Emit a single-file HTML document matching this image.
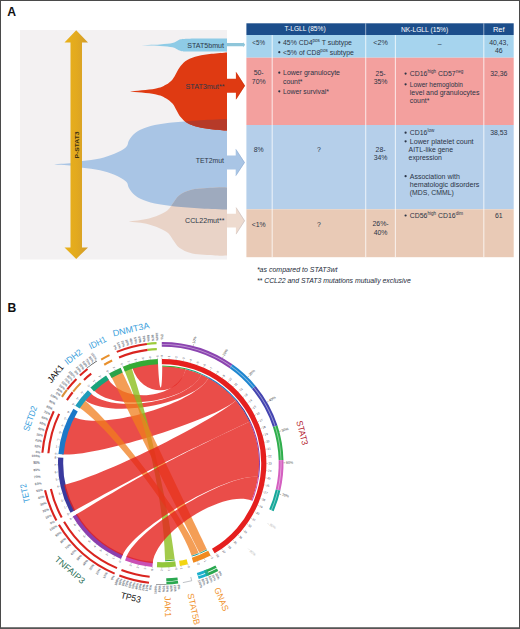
<!DOCTYPE html><html><head><meta charset="utf-8"><style>html,body{margin:0;padding:0;background:#fff}body{width:520px;height:629px;overflow:hidden;font-family:"Liberation Sans",sans-serif}svg{display:block}</style></head><body>
<svg width="520" height="629" viewBox="0 0 520 629">
<rect x="0" y="0" width="520" height="629" fill="#fff"/>
<rect x="20" y="30" width="207" height="229.5" fill="#f3f1f2"/>
<defs><clipPath id="cpTet"><path d="M43.50 164.30 C45.92 164.23 53.58 164.08 58.00 163.90 C62.42 163.72 65.92 163.70 70.00 163.20 C74.08 162.70 77.50 161.70 82.50 160.90 C87.50 160.10 94.68 159.58 100.00 158.40 C105.32 157.22 110.07 155.67 114.40 153.80 C118.73 151.93 123.60 149.37 126.00 147.20 C128.40 145.03 127.60 142.87 128.80 140.80 C130.00 138.73 131.27 136.63 133.20 134.80 C135.13 132.97 136.80 131.43 140.40 129.80 C144.00 128.17 149.03 126.27 154.80 125.00 C160.57 123.73 167.30 123.00 175.00 122.20 C182.70 121.40 192.33 120.73 201.00 120.20 C209.67 119.67 222.67 119.20 227.00 119.00 L227.00 209.60 C222.67 209.40 209.67 208.93 201.00 208.40 C192.33 207.87 182.70 207.20 175.00 206.40 C167.30 205.60 160.57 204.87 154.80 203.60 C149.03 202.33 144.00 200.43 140.40 198.80 C136.80 197.17 135.13 195.63 133.20 193.80 C131.27 191.97 130.00 189.87 128.80 187.80 C127.60 185.73 128.40 183.57 126.00 181.40 C123.60 179.23 118.73 176.67 114.40 174.80 C110.07 172.93 105.32 171.38 100.00 170.20 C94.68 169.02 87.50 168.50 82.50 167.70 C77.50 166.90 74.08 165.90 70.00 165.40 C65.92 164.90 62.42 164.88 58.00 164.70 C53.58 164.52 45.92 164.37 43.50 164.30 Z" fill="#000" /></clipPath><clipPath id="cpCcl"><path d="M128.80 221.50 C132.17 221.02 142.75 220.30 149.00 218.60 C155.25 216.90 162.22 213.97 166.30 211.30 C170.38 208.63 171.33 205.27 173.50 202.60 C175.67 199.93 176.17 197.47 179.30 195.30 C182.43 193.13 186.28 190.88 192.30 189.60 C198.32 188.32 209.62 187.97 215.40 187.60 C221.18 187.23 225.07 187.43 227.00 187.40 L227.00 255.60 C225.07 255.57 221.18 255.77 215.40 255.40 C209.62 255.03 198.32 254.68 192.30 253.40 C186.28 252.12 182.43 249.87 179.30 247.70 C176.17 245.53 175.67 243.07 173.50 240.40 C171.33 237.73 170.38 234.37 166.30 231.70 C162.22 229.03 155.25 226.10 149.00 224.40 C142.75 222.70 132.17 221.98 128.80 221.50 Z" fill="#000" /></clipPath></defs>
<path d="M43.50 164.30 C45.92 164.23 53.58 164.08 58.00 163.90 C62.42 163.72 65.92 163.70 70.00 163.20 C74.08 162.70 77.50 161.70 82.50 160.90 C87.50 160.10 94.68 159.58 100.00 158.40 C105.32 157.22 110.07 155.67 114.40 153.80 C118.73 151.93 123.60 149.37 126.00 147.20 C128.40 145.03 127.60 142.87 128.80 140.80 C130.00 138.73 131.27 136.63 133.20 134.80 C135.13 132.97 136.80 131.43 140.40 129.80 C144.00 128.17 149.03 126.27 154.80 125.00 C160.57 123.73 167.30 123.00 175.00 122.20 C182.70 121.40 192.33 120.73 201.00 120.20 C209.67 119.67 222.67 119.20 227.00 119.00 L227.00 209.60 C222.67 209.40 209.67 208.93 201.00 208.40 C192.33 207.87 182.70 207.20 175.00 206.40 C167.30 205.60 160.57 204.87 154.80 203.60 C149.03 202.33 144.00 200.43 140.40 198.80 C136.80 197.17 135.13 195.63 133.20 193.80 C131.27 191.97 130.00 189.87 128.80 187.80 C127.60 185.73 128.40 183.57 126.00 181.40 C123.60 179.23 118.73 176.67 114.40 174.80 C110.07 172.93 105.32 171.38 100.00 170.20 C94.68 169.02 87.50 168.50 82.50 167.70 C77.50 166.90 74.08 165.90 70.00 165.40 C65.92 164.90 62.42 164.88 58.00 164.70 C53.58 164.52 45.92 164.37 43.50 164.30 Z" fill="#a9c5e5" />
<path d="M130.00 91.50 C134.17 91.05 149.03 89.92 155.00 88.80 C160.97 87.68 162.88 86.37 165.80 84.80 C168.72 83.23 170.72 81.40 172.50 79.40 C174.28 77.40 175.15 75.03 176.50 72.80 C177.85 70.57 178.80 68.13 180.60 66.00 C182.40 63.87 184.38 61.67 187.30 60.00 C190.22 58.33 194.07 57.03 198.10 56.00 C202.13 54.97 206.68 54.40 211.50 53.80 C216.32 53.20 224.42 52.63 227.00 52.40 L227.00 130.60 C224.42 130.37 216.32 129.80 211.50 129.20 C206.68 128.60 202.13 128.03 198.10 127.00 C194.07 125.97 190.22 124.67 187.30 123.00 C184.38 121.33 182.40 119.13 180.60 117.00 C178.80 114.87 177.85 112.43 176.50 110.20 C175.15 107.97 174.28 105.60 172.50 103.60 C170.72 101.60 168.72 99.77 165.80 98.20 C162.88 96.63 160.97 95.32 155.00 94.20 C149.03 93.08 134.17 91.95 130.00 91.50 Z" fill="#df3a12" />
<path d="M130.00 91.50 C134.17 91.05 149.03 89.92 155.00 88.80 C160.97 87.68 162.88 86.37 165.80 84.80 C168.72 83.23 170.72 81.40 172.50 79.40 C174.28 77.40 175.15 75.03 176.50 72.80 C177.85 70.57 178.80 68.13 180.60 66.00 C182.40 63.87 184.38 61.67 187.30 60.00 C190.22 58.33 194.07 57.03 198.10 56.00 C202.13 54.97 206.68 54.40 211.50 53.80 C216.32 53.20 224.42 52.63 227.00 52.40 L227.00 130.60 C224.42 130.37 216.32 129.80 211.50 129.20 C206.68 128.60 202.13 128.03 198.10 127.00 C194.07 125.97 190.22 124.67 187.30 123.00 C184.38 121.33 182.40 119.13 180.60 117.00 C178.80 114.87 177.85 112.43 176.50 110.20 C175.15 107.97 174.28 105.60 172.50 103.60 C170.72 101.60 168.72 99.77 165.80 98.20 C162.88 96.63 160.97 95.32 155.00 94.20 C149.03 93.08 134.17 91.95 130.00 91.50 Z" fill="#b63a29" clip-path="url(#cpTet)"/>
<path d="M128.80 221.50 C132.17 221.02 142.75 220.30 149.00 218.60 C155.25 216.90 162.22 213.97 166.30 211.30 C170.38 208.63 171.33 205.27 173.50 202.60 C175.67 199.93 176.17 197.47 179.30 195.30 C182.43 193.13 186.28 190.88 192.30 189.60 C198.32 188.32 209.62 187.97 215.40 187.60 C221.18 187.23 225.07 187.43 227.00 187.40 L227.00 255.60 C225.07 255.57 221.18 255.77 215.40 255.40 C209.62 255.03 198.32 254.68 192.30 253.40 C186.28 252.12 182.43 249.87 179.30 247.70 C176.17 245.53 175.67 243.07 173.50 240.40 C171.33 237.73 170.38 234.37 166.30 231.70 C162.22 229.03 155.25 226.10 149.00 224.40 C142.75 222.70 132.17 221.98 128.80 221.50 Z" fill="#e9d3c7" />
<path d="M43.50 164.30 C45.92 164.23 53.58 164.08 58.00 163.90 C62.42 163.72 65.92 163.70 70.00 163.20 C74.08 162.70 77.50 161.70 82.50 160.90 C87.50 160.10 94.68 159.58 100.00 158.40 C105.32 157.22 110.07 155.67 114.40 153.80 C118.73 151.93 123.60 149.37 126.00 147.20 C128.40 145.03 127.60 142.87 128.80 140.80 C130.00 138.73 131.27 136.63 133.20 134.80 C135.13 132.97 136.80 131.43 140.40 129.80 C144.00 128.17 149.03 126.27 154.80 125.00 C160.57 123.73 167.30 123.00 175.00 122.20 C182.70 121.40 192.33 120.73 201.00 120.20 C209.67 119.67 222.67 119.20 227.00 119.00 L227.00 209.60 C222.67 209.40 209.67 208.93 201.00 208.40 C192.33 207.87 182.70 207.20 175.00 206.40 C167.30 205.60 160.57 204.87 154.80 203.60 C149.03 202.33 144.00 200.43 140.40 198.80 C136.80 197.17 135.13 195.63 133.20 193.80 C131.27 191.97 130.00 189.87 128.80 187.80 C127.60 185.73 128.40 183.57 126.00 181.40 C123.60 179.23 118.73 176.67 114.40 174.80 C110.07 172.93 105.32 171.38 100.00 170.20 C94.68 169.02 87.50 168.50 82.50 167.70 C77.50 166.90 74.08 165.90 70.00 165.40 C65.92 164.90 62.42 164.88 58.00 164.70 C53.58 164.52 45.92 164.37 43.50 164.30 Z" fill="#9eaabe" clip-path="url(#cpCcl)"/>
<path d="M137.50 45.15 C141.25 45.02 154.17 44.76 160.00 44.40 C165.83 44.04 169.67 43.57 172.50 43.00 C175.33 42.43 175.58 41.62 177.00 41.00 C178.42 40.38 178.83 39.68 181.00 39.30 C183.17 38.92 182.33 38.82 190.00 38.70 C197.67 38.58 220.83 38.62 227.00 38.60 L227.00 51.70 C220.83 51.68 197.67 51.72 190.00 51.60 C182.33 51.48 183.17 51.38 181.00 51.00 C178.83 50.62 178.42 49.92 177.00 49.30 C175.58 48.68 175.33 47.87 172.50 47.30 C169.67 46.73 165.83 46.26 160.00 45.90 C154.17 45.54 141.25 45.27 137.50 45.15 Z" fill="#8ecbe6" />
<path d="M227 43.1 L243.2 43.1 L243.2 42.2 L245.2 44.75 L243.2 47.3 L243.2 46.3 L227 46.3 Z" fill="#8fc6da"/>
<path d="M227 78.7 L235.9 78.7 L235.9 71.8 L245 85.75 L235.9 99.7 L235.9 92.7 L227 92.7 Z" fill="#df3a12"/><path d="M236.20000000000002 72.6 L244.5 85.75 L236.20000000000002 98.9" fill="none" stroke="#c2300e" stroke-width="0.9" stroke-opacity="0.55" stroke-linejoin="round"/>
<path d="M227 155.4 L235.7 155.4 L235.7 148.7 L244.9 162.5 L235.7 176.3 L235.7 169.6 L227 169.6 Z" fill="#a9c5e5"/><path d="M236.0 149.5 L244.4 162.5 L236.0 175.5" fill="none" stroke="#8fa9cf" stroke-width="0.9" stroke-opacity="0.55" stroke-linejoin="round"/>
<path d="M227 213.7 L235.9 213.7 L235.9 206.9 L245 220.8 L235.9 234.7 L235.9 227.6 L227 227.6 Z" fill="#eedbcf"/><path d="M236.20000000000002 207.70000000000002 L244.5 220.8 L236.20000000000002 233.89999999999998" fill="none" stroke="#c0b8bc" stroke-width="0.9" stroke-opacity="0.55" stroke-linejoin="round"/>
<defs><linearGradient id="gold" x1="0" x2="1" y1="0" y2="0"><stop offset="0" stop-color="#e9b11a"/><stop offset="0.5" stop-color="#e3aa1e"/><stop offset="1" stop-color="#d19c2c"/></linearGradient></defs>
<path d="M76.2 30.3 L88 42.6 L82 42.6 L82 247.4 L88 247.4 L76.2 258.9 L64.5 247.4 L70.5 247.4 L70.5 42.6 L64.5 42.6 Z" fill="url(#gold)"/>
<text transform="translate(78.8,145) rotate(-90)" text-anchor="middle" font-family="Liberation Sans, sans-serif" font-size="6.1" font-weight="bold" fill="#3d3010" textLength="27.2" lengthAdjust="spacingAndGlyphs">P-STAT3</text>
<text x="224" y="47.5" text-anchor="end" font-family="Liberation Sans, sans-serif" font-size="7" fill="#2d3848" textLength="36.8" lengthAdjust="spacingAndGlyphs">STAT5bmut</text>
<text x="224.5" y="88.7" text-anchor="end" font-family="Liberation Sans, sans-serif" font-size="7" fill="#2d3848" textLength="39" lengthAdjust="spacingAndGlyphs">STAT3mut**</text>
<text x="224" y="163.3" text-anchor="end" font-family="Liberation Sans, sans-serif" font-size="7" fill="#2d3848" textLength="28.2" lengthAdjust="spacingAndGlyphs">TET2mut</text>
<text x="224.6" y="223.4" text-anchor="end" font-family="Liberation Sans, sans-serif" font-size="7" fill="#2d3848" textLength="39.6" lengthAdjust="spacingAndGlyphs">CCL22mut**</text>
<rect x="246.4" y="23.3" width="267.30000000000007" height="11.7" fill="#1c4e8b"/>
<rect x="246.4" y="35.0" width="267.30000000000007" height="22.700000000000003" fill="#a6d4ee"/>
<rect x="246.4" y="57.7" width="267.30000000000007" height="67.3" fill="#f3a09e"/>
<rect x="246.4" y="125.0" width="267.30000000000007" height="84.30000000000001" fill="#b5cfea"/>
<rect x="246.4" y="209.3" width="267.30000000000007" height="47.89999999999998" fill="#e9cab6"/>
<rect x="271.65" y="35.0" width="1.1" height="222.2" fill="#ffffff" opacity="0.7"/>
<rect x="365.15" y="35.0" width="1.1" height="222.2" fill="#ffffff" opacity="0.7"/>
<rect x="394.84999999999997" y="35.0" width="1.1" height="222.2" fill="#ffffff" opacity="0.7"/>
<rect x="483.25" y="35.0" width="1.1" height="222.2" fill="#ffffff" opacity="0.7"/>
<rect x="365.25" y="23.3" width="0.9" height="11.7" fill="#ffffff" opacity="0.6"/>
<rect x="483.35" y="23.3" width="0.9" height="11.7" fill="#ffffff" opacity="0.6"/>
<text x="305" y="31.3" text-anchor="middle" font-family="Liberation Sans, sans-serif" font-size="6.9" fill="#ffffff" textLength="41.2" lengthAdjust="spacingAndGlyphs" >T-LGLL (85%)</text>
<text x="424.6" y="31.6" text-anchor="middle" font-family="Liberation Sans, sans-serif" font-size="6.9" fill="#ffffff" textLength="47.4" lengthAdjust="spacingAndGlyphs" >NK-LGLL (15%)</text>
<text x="498.75" y="31.6" text-anchor="middle" font-family="Liberation Sans, sans-serif" font-size="6.9" fill="#ffffff" textLength="11.7" lengthAdjust="spacingAndGlyphs" >Ref</text>
<text x="258.7" y="44.7" text-anchor="middle" font-family="Liberation Sans, sans-serif" font-size="6.9" fill="#2b3446" textLength="12.7" lengthAdjust="spacingAndGlyphs" >&lt;5%</text>
<circle cx="279.3" cy="42.400000000000006" r="1.1" fill="#2b3446"/>
<text x="283" y="44.7" text-anchor="start" font-family="Liberation Sans, sans-serif" font-size="6.9" fill="#2b3446" >45% CD4<tspan font-size="4.6" dy="-2.7">pos</tspan><tspan dy="2.7"> T subtype</tspan></text>
<circle cx="279.3" cy="52.2" r="1.1" fill="#2b3446"/>
<text x="283" y="54.5" text-anchor="start" font-family="Liberation Sans, sans-serif" font-size="6.9" fill="#2b3446" >&lt;5% of CD8<tspan font-size="4.6" dy="-2.7">pos</tspan><tspan dy="2.7"> subtype</tspan></text>
<text x="380.54999999999995" y="44.8" text-anchor="middle" font-family="Liberation Sans, sans-serif" font-size="6.9" fill="#2b3446" textLength="14.6" lengthAdjust="spacingAndGlyphs" >&lt;2%</text>
<text x="439.6" y="45.6" text-anchor="middle" font-family="Liberation Sans, sans-serif" font-size="6.9" fill="#2b3446" >–</text>
<text x="498.75" y="44.8" text-anchor="middle" font-family="Liberation Sans, sans-serif" font-size="6.9" fill="#2b3446" >40,43,</text>
<text x="498.75" y="53.2" text-anchor="middle" font-family="Liberation Sans, sans-serif" font-size="6.9" fill="#2b3446" >46</text>
<text x="258.7" y="75.2" text-anchor="middle" font-family="Liberation Sans, sans-serif" font-size="6.9" fill="#2b3446" >50-</text>
<text x="258.7" y="84.4" text-anchor="middle" font-family="Liberation Sans, sans-serif" font-size="6.9" fill="#2b3446" >70%</text>
<circle cx="279.3" cy="72.7" r="1.1" fill="#2b3446"/>
<text x="283" y="75" text-anchor="start" font-family="Liberation Sans, sans-serif" font-size="6.9" fill="#2b3446" textLength="57" lengthAdjust="spacingAndGlyphs" >Lower granulocyte</text>
<text x="283" y="84.2" text-anchor="start" font-family="Liberation Sans, sans-serif" font-size="6.9" fill="#2b3446" >count*</text>
<circle cx="279.3" cy="91.3" r="1.1" fill="#2b3446"/>
<text x="283" y="93.6" text-anchor="start" font-family="Liberation Sans, sans-serif" font-size="6.9" fill="#2b3446" textLength="45.9" lengthAdjust="spacingAndGlyphs" >Lower survival*</text>
<text x="380.54999999999995" y="75.8" text-anchor="middle" font-family="Liberation Sans, sans-serif" font-size="6.9" fill="#2b3446" >25-</text>
<text x="380.54999999999995" y="84.3" text-anchor="middle" font-family="Liberation Sans, sans-serif" font-size="6.9" fill="#2b3446" >35%</text>
<circle cx="405.6" cy="73.60000000000001" r="1.1" fill="#2b3446"/>
<text x="409.8" y="75.9" text-anchor="start" font-family="Liberation Sans, sans-serif" font-size="6.9" fill="#2b3446" >CD16<tspan font-size="4.6" dy="-2.7">high</tspan><tspan dy="2.7"> CD57</tspan><tspan font-size="4.6" dy="-2.7">neg</tspan><tspan dy="2.7"></tspan></text>
<circle cx="405.6" cy="84.3" r="1.1" fill="#2b3446"/>
<text x="409.8" y="86.6" text-anchor="start" font-family="Liberation Sans, sans-serif" font-size="6.9" fill="#2b3446" textLength="53.2" lengthAdjust="spacingAndGlyphs" >Lower hemoglobin</text>
<text x="409.8" y="94.6" text-anchor="start" font-family="Liberation Sans, sans-serif" font-size="6.9" fill="#2b3446" textLength="69.6" lengthAdjust="spacingAndGlyphs" >level and granulocytes</text>
<text x="409.8" y="102.8" text-anchor="start" font-family="Liberation Sans, sans-serif" font-size="6.9" fill="#2b3446" >count*</text>
<text x="498.75" y="75.9" text-anchor="middle" font-family="Liberation Sans, sans-serif" font-size="6.9" fill="#2b3446" >32,36</text>
<text x="258.7" y="152.0" text-anchor="middle" font-family="Liberation Sans, sans-serif" font-size="6.9" fill="#2b3446" >8%</text>
<text x="318.95" y="152.0" text-anchor="middle" font-family="Liberation Sans, sans-serif" font-size="6.9" fill="#2b3446" >?</text>
<text x="380.54999999999995" y="151.5" text-anchor="middle" font-family="Liberation Sans, sans-serif" font-size="6.9" fill="#2b3446" >28-</text>
<text x="380.54999999999995" y="160.3" text-anchor="middle" font-family="Liberation Sans, sans-serif" font-size="6.9" fill="#2b3446" >34%</text>
<circle cx="405.6" cy="132.7" r="1.1" fill="#2b3446"/>
<text x="409.8" y="135" text-anchor="start" font-family="Liberation Sans, sans-serif" font-size="6.9" fill="#2b3446" >CD16<tspan font-size="4.6" dy="-2.7">low</tspan><tspan dy="2.7"></tspan></text>
<circle cx="405.6" cy="141.29999999999998" r="1.1" fill="#2b3446"/>
<text x="409.8" y="143.6" text-anchor="start" font-family="Liberation Sans, sans-serif" font-size="6.9" fill="#2b3446" textLength="63.8" lengthAdjust="spacingAndGlyphs" >Lower platelet count</text>
<text x="408.6" y="151.9" text-anchor="start" font-family="Liberation Sans, sans-serif" font-size="6.9" fill="#2b3446" >AITL-like gene</text>
<text x="408.6" y="160.2" text-anchor="start" font-family="Liberation Sans, sans-serif" font-size="6.9" fill="#2b3446" >expression</text>
<circle cx="405.6" cy="176.2" r="1.1" fill="#2b3446"/>
<text x="409.8" y="178.5" text-anchor="start" font-family="Liberation Sans, sans-serif" font-size="6.9" fill="#2b3446" textLength="50" lengthAdjust="spacingAndGlyphs" >Association with</text>
<text x="409.8" y="186.8" text-anchor="start" font-family="Liberation Sans, sans-serif" font-size="6.9" fill="#2b3446" textLength="69.6" lengthAdjust="spacingAndGlyphs" >hematologic disorders</text>
<text x="409.8" y="195.3" text-anchor="start" font-family="Liberation Sans, sans-serif" font-size="6.9" fill="#2b3446" textLength="44" lengthAdjust="spacingAndGlyphs" >(MDS, CMML)</text>
<text x="498.75" y="135" text-anchor="middle" font-family="Liberation Sans, sans-serif" font-size="6.9" fill="#2b3446" >38,53</text>
<text x="258.7" y="227" text-anchor="middle" font-family="Liberation Sans, sans-serif" font-size="6.9" fill="#2b3446" >&lt;1%</text>
<text x="318.95" y="227" text-anchor="middle" font-family="Liberation Sans, sans-serif" font-size="6.9" fill="#2b3446" >?</text>
<text x="380.54999999999995" y="226.2" text-anchor="middle" font-family="Liberation Sans, sans-serif" font-size="6.9" fill="#2b3446" >26%-</text>
<text x="380.54999999999995" y="234.8" text-anchor="middle" font-family="Liberation Sans, sans-serif" font-size="6.9" fill="#2b3446" >40%</text>
<circle cx="405.6" cy="215.5" r="1.1" fill="#2b3446"/>
<text x="409.8" y="217.8" text-anchor="start" font-family="Liberation Sans, sans-serif" font-size="6.9" fill="#2b3446" >CD56<tspan font-size="4.6" dy="-2.7">high</tspan><tspan dy="2.7"> CD16</tspan><tspan font-size="4.6" dy="-2.7">dim</tspan><tspan dy="2.7"></tspan></text>
<text x="498.75" y="217.8" text-anchor="middle" font-family="Liberation Sans, sans-serif" font-size="6.9" fill="#2b3446" >61</text>
<text x="256.9" y="271.6" text-anchor="start" font-family="Liberation Sans, sans-serif" font-size="6.9" fill="#222a38" textLength="80.6" lengthAdjust="spacingAndGlyphs" font-style="italic">*as compared to STAT3wt</text>
<text x="256.9" y="283.4" text-anchor="start" font-family="Liberation Sans, sans-serif" font-size="6.9" fill="#222a38" textLength="153.9" lengthAdjust="spacingAndGlyphs" font-style="italic">** CCL22 and STAT3 mutations mutually exclusive</text>
<path d="M162.20 366.30 A96.90 96.90 0 0 1 185.71 369.20 C178.42 398.34 141.48 397.09 132.18 367.39 A100.40 100.40 0 0 1 158.00 362.89 C159.30 393.98 162.20 396.34 162.20 366.30 Z" fill="#e5201c" fill-opacity="0.8"/>
<path d="M185.71 369.20 A96.90 96.90 0 0 1 201.27 374.52 C189.16 402.01 114.78 412.70 93.47 390.01 A100.40 100.40 0 0 1 107.81 378.81 C124.67 404.97 178.42 398.34 185.71 369.20 Z" fill="#e5201c" fill-opacity="0.8"/>
<path d="M201.27 374.52 A96.90 96.90 0 0 1 208.51 378.08 C194.15 404.47 108.52 419.42 84.40 399.74 A100.40 100.40 0 0 1 90.34 393.08 C112.62 414.82 189.16 402.01 201.27 374.52 Z" fill="#e5201c" fill-opacity="0.8"/>
<path d="M208.51 378.08 A96.90 96.90 0 0 1 236.00 400.41 C212.49 420.42 94.05 457.24 62.18 454.45 A100.40 100.40 0 0 1 73.14 416.84 C100.75 431.21 194.15 404.47 208.51 378.08 Z" fill="#e5201c" fill-opacity="0.8"/>
<path d="M174.67 559.19 A96.80 96.80 0 0 1 165.07 559.96 C163.26 499.00 148.22 428.78 124.43 370.18 A100.40 100.40 0 0 1 131.51 367.61 C150.84 427.83 166.81 498.72 174.67 559.19 Z" fill="#8cbe1e" fill-opacity="0.8"/>
<path d="M206.75 549.14 A96.80 96.80 0 0 1 199.24 552.63 C199.24 552.63 111.24 376.69 111.24 376.69 A100.40 100.40 0 0 1 121.84 371.27 C121.84 371.27 206.75 549.14 206.75 549.14 Z" fill="#f07d1e" fill-opacity="0.75"/>
<path d="M198.62 552.89 A96.80 96.80 0 0 1 191.47 555.47 C179.76 518.56 112.14 429.69 78.77 407.35 A100.40 100.40 0 0 1 84.17 400.02 C115.38 425.29 184.05 517.01 198.62 552.89 Z" fill="#f07d1e" fill-opacity="0.75"/>
<path d="M161.84 359.00 A104.20 104.20 0 0 1 214.61 553.26 L212.00 548.76 A99.00 99.00 0 0 0 161.85 364.20 Z" fill="#e51f1e" />
<path d="M210.64 555.46 A104.20 104.20 0 0 1 193.36 562.63 L191.81 557.67 A99.00 99.00 0 0 0 208.22 550.85 Z" fill="#f08a1f" />
<path d="M187.94 564.17 A104.20 104.20 0 0 1 179.94 565.88 L179.05 560.76 A99.00 99.00 0 0 0 186.65 559.13 Z" fill="#f3d512" />
<path d="M175.98 566.48 A104.20 104.20 0 0 1 156.93 567.27 L157.19 562.07 A99.00 99.00 0 0 0 175.29 561.33 Z" fill="#93c73b" />
<path d="M152.39 566.94 A104.20 104.20 0 0 1 125.03 560.54 L126.88 555.69 A99.00 99.00 0 0 0 152.88 561.76 Z" fill="#c951b5" />
<path d="M120.98 558.90 A104.20 104.20 0 0 1 72.70 516.55 L77.16 513.89 A99.00 99.00 0 0 0 123.04 554.13 Z" fill="#8a3fae" />
<path d="M70.54 512.76 A104.20 104.20 0 0 1 58.16 457.38 L63.35 457.67 A99.00 99.00 0 0 0 75.11 510.29 Z" fill="#3a3a9e" />
<path d="M58.40 454.12 A104.20 104.20 0 0 1 73.35 408.76 L77.79 411.47 A99.00 99.00 0 0 0 63.58 454.57 Z" fill="#1c78c8" />
<path d="M75.31 405.69 A104.20 104.20 0 0 1 87.88 390.17 L91.59 393.81 A99.00 99.00 0 0 0 79.65 408.56 Z" fill="#1f9cba" />
<path d="M90.47 387.62 A104.20 104.20 0 0 1 106.06 375.42 L108.86 379.80 A99.00 99.00 0 0 0 94.05 391.39 Z" fill="#18a37a" />
<path d="M109.00 373.60 A104.20 104.20 0 0 1 120.65 367.64 L122.72 372.41 A99.00 99.00 0 0 0 111.66 378.07 Z" fill="#2aa24a" />
<path d="M122.83 366.72 A104.20 104.20 0 0 1 157.84 359.09 L158.05 364.29 A99.00 99.00 0 0 0 124.79 371.54 Z" fill="#35ab35" />
<path d="M236.00 400.41 A96.90 96.90 0 0 1 249.72 421.62 C162.32 463.14 162.07 463.27 73.88 510.95 A100.40 100.40 0 0 1 64.14 484.76 C100.45 476.78 208.68 423.66 236.00 400.41 Z" fill="#e5201c" fill-opacity="0.8"/>
<path d="M249.72 421.62 A96.90 96.90 0 0 1 258.11 477.01 C228.36 472.72 134.80 526.81 122.49 555.41 A100.40 100.40 0 0 1 75.96 514.61 C150.43 470.22 174.15 457.52 249.72 421.62 Z" fill="#e5201c" fill-opacity="0.8"/>
<path d="M258.11 477.01 A96.90 96.90 0 0 1 251.59 500.59 C223.88 489.00 155.68 532.17 152.75 563.15 A100.40 100.40 0 0 1 126.38 556.99 C137.49 527.91 228.37 472.72 258.11 477.01 Z" fill="#e5201c" fill-opacity="0.8"/>
<path d="M259.00 477.13 A97.80 97.80 0 0 1 252.42 500.94 L251.50 500.56 A96.80 96.80 0 0 0 258.01 476.99 Z" fill="#c951b5" />
<path d="M250.54 421.23 A97.80 97.80 0 0 1 259.00 477.13 L258.01 476.99 A96.80 96.80 0 0 0 249.63 421.66 Z" fill="#8a3fae" />
<path d="M236.69 399.83 A97.80 97.80 0 0 1 250.54 421.23 L249.63 421.66 A96.80 96.80 0 0 0 235.93 400.48 Z" fill="#3a3a9e" />
<path d="M208.94 377.29 A97.80 97.80 0 0 1 236.69 399.83 L235.93 400.48 A96.80 96.80 0 0 0 208.46 378.17 Z" fill="#1c78c8" />
<path d="M201.63 373.70 A97.80 97.80 0 0 1 208.94 377.29 L208.46 378.17 A96.80 96.80 0 0 0 201.23 374.62 Z" fill="#1f9cba" />
<path d="M185.93 368.32 A97.80 97.80 0 0 1 201.63 373.70 L201.23 374.62 A96.80 96.80 0 0 0 185.68 369.29 Z" fill="#18a37a" />
<path d="M162.20 365.40 A97.80 97.80 0 0 1 185.93 368.32 L185.68 369.29 A96.80 96.80 0 0 0 162.20 366.40 Z" fill="#35ab35" />
<path d="M174.82 560.38 A98.00 98.00 0 0 1 165.11 561.16 L165.08 560.26 A97.10 97.10 0 0 0 174.71 559.49 Z" fill="#2e9e3e" />
<path d="M207.30 550.21 A98.00 98.00 0 0 1 199.70 553.74 L199.36 552.91 A97.10 97.10 0 0 0 206.89 549.41 Z" fill="#1f9c7a" />
<path d="M199.07 554.00 A98.00 98.00 0 0 1 191.83 556.61 L191.56 555.75 A97.10 97.10 0 0 0 198.73 553.17 Z" fill="#1f9c9a" />
<path d="M161.78 341.90 A121.30 121.30 0 0 1 232.47 364.32 L229.69 368.24 A116.50 116.50 0 0 0 161.79 346.70 Z" fill="#8b44b0" />
<path d="M232.47 364.32 A121.30 121.30 0 0 1 255.66 385.88 L251.96 388.94 A116.50 116.50 0 0 0 229.69 368.24 Z" fill="#1e86d0" />
<path d="M255.66 385.88 A121.30 121.30 0 0 1 277.50 425.51 L272.94 427.01 A116.50 116.50 0 0 0 251.96 388.94 Z" fill="#4444b0" />
<path d="M277.50 425.51 A121.30 121.30 0 0 1 283.46 460.02 L278.66 460.15 A116.50 116.50 0 0 0 272.94 427.01 Z" fill="#2fae4c" />
<path d="M283.46 460.02 A121.30 121.30 0 0 1 280.39 490.49 L275.71 489.41 A116.50 116.50 0 0 0 278.66 460.15 Z" fill="#d45fc0" />
<path d="M280.39 490.49 A121.30 121.30 0 0 1 273.61 511.18 L269.20 509.28 A116.50 116.50 0 0 0 275.71 489.41 Z" fill="#16a89a" />
<path d="M161.78 343.90 A119.30 119.30 0 0 1 271.77 510.39 L270.94 510.03 A118.40 118.40 0 0 0 161.79 344.80 Z" fill="#ffffff" opacity="0.45"/>
<path d="M216.69 567.87 A118.00 118.00 0 0 1 206.40 572.61 L205.35 570.01 A115.20 115.20 0 0 0 215.39 565.38 Z" fill="#2aa850" />
<path d="M206.40 572.61 A118.00 118.00 0 0 1 197.68 575.74 L196.84 573.07 A115.20 115.20 0 0 0 205.35 570.01 Z" fill="#1cb0cc" />
<path d="M218.26 570.88 A121.40 121.40 0 0 1 207.68 575.76 L206.63 573.16 A118.60 118.60 0 0 0 216.96 568.40 Z" fill="#2aa850" />
<path d="M207.68 575.76 A121.40 121.40 0 0 1 198.71 578.98 L197.86 576.31 A118.60 118.60 0 0 0 206.63 573.16 Z" fill="#1cb0cc" />
<path d="M209.05 575.20 A121.40 121.40 0 0 1 206.30 576.31 L204.05 570.53 A115.20 115.20 0 0 0 206.66 569.48 Z" fill="#22ac90" />
<path d="M190.78 576.97 L191.73 580.75 L182.83 582.63" fill="none" stroke="#8a9098" stroke-width="0.55"/>
<path d="M177.81 580.16 A118.00 118.00 0 0 1 166.32 581.13 L166.22 578.33 A115.20 115.20 0 0 0 177.44 577.39 Z" fill="#2aa850" />
<path d="M178.26 583.53 A121.40 121.40 0 0 1 166.44 584.53 L166.34 581.73 A118.60 118.60 0 0 0 177.89 580.76 Z" fill="#2aa850" />
<path d="M166.44 584.53 A121.40 121.40 0 0 1 156.06 584.44 L156.08 583.95 A120.90 120.90 0 0 0 166.42 584.03 Z" fill="#444" />
<path d="M149.55 577.80 A115.30 115.30 0 0 1 121.07 570.91 L121.82 568.95 A113.20 113.20 0 0 0 149.78 575.72 Z" fill="#d9241f" />
<path d="M148.89 583.77 A121.30 121.30 0 0 1 118.93 576.52 L119.68 574.56 A119.20 119.20 0 0 0 149.12 581.68 Z" fill="#d9241f" />
<path d="M116.59 569.10 A115.30 115.30 0 0 1 63.16 522.24 L64.97 521.16 A113.20 113.20 0 0 0 117.42 567.17 Z" fill="#d9241f" />
<path d="M114.22 574.61 A121.30 121.30 0 0 1 58.01 525.31 L59.81 524.24 A119.20 119.20 0 0 0 115.05 572.68 Z" fill="#d9241f" />
<path d="M60.78 518.04 A115.30 115.30 0 0 1 49.86 489.14 L51.90 488.66 A113.20 113.20 0 0 0 62.62 517.04 Z" fill="#d9241f" />
<path d="M55.50 520.89 A121.30 121.30 0 0 1 44.01 490.49 L46.06 490.01 A119.20 119.20 0 0 0 57.35 519.89 Z" fill="#d9241f" />
<path d="M47.34 453.15 A115.30 115.30 0 0 1 58.22 413.38 L60.11 414.29 A113.20 113.20 0 0 0 49.43 453.33 Z" fill="#d9241f" />
<path d="M41.36 452.63 A121.30 121.30 0 0 1 52.81 410.79 L54.70 411.70 A119.20 119.20 0 0 0 43.45 452.81 Z" fill="#d9241f" />
<path d="M61.05 396.25 A121.30 121.30 0 0 1 66.10 389.19 L67.76 390.47 A119.20 119.20 0 0 0 62.80 397.41 Z" fill="#d9903a" />
<path d="M66.48 388.69 A121.30 121.30 0 0 1 75.68 378.18 L77.18 379.65 A119.20 119.20 0 0 0 68.14 389.98 Z" fill="#d9241f" />
<path d="M66.05 399.56 A115.30 115.30 0 0 1 71.84 391.58 L73.49 392.89 A113.20 113.20 0 0 0 67.80 400.72 Z" fill="#d9241f" />
<path d="M72.34 390.95 A115.30 115.30 0 0 1 79.96 382.39 L81.46 383.86 A113.20 113.20 0 0 0 73.98 392.27 Z" fill="#e0923a" />
<path d="M79.16 374.78 A121.30 121.30 0 0 1 86.85 368.14 L88.16 369.78 A119.20 119.20 0 0 0 80.60 376.31 Z" fill="#d9241f" />
<path d="M83.27 379.15 A115.30 115.30 0 0 1 90.58 372.84 L91.89 374.49 A113.20 113.20 0 0 0 84.71 380.68 Z" fill="#d9241f" />
<path d="M86.67 367.90 A121.60 121.60 0 0 1 96.69 360.76 L97.01 361.26 A121.00 121.00 0 0 0 87.04 368.37 Z" fill="#333" />
<path d="M103.68 363.85 A115.30 115.30 0 0 1 111.66 359.57 L112.58 361.46 A113.20 113.20 0 0 0 104.75 365.66 Z" fill="#e8902c" />
<path d="M100.64 358.68 A121.30 121.30 0 0 1 109.03 354.18 L109.95 356.06 A119.20 119.20 0 0 0 101.70 360.49 Z" fill="#e8902c" />
<path d="M118.63 356.45 A115.30 115.30 0 0 1 147.55 348.83 L147.82 350.92 A113.20 113.20 0 0 0 119.43 358.39 Z" fill="#d9241f" />
<path d="M116.37 350.89 A121.30 121.30 0 0 1 146.79 342.88 L147.05 344.97 A119.20 119.20 0 0 0 117.16 352.84 Z" fill="#d9241f" />
<path d="M147.55 348.83 A115.30 115.30 0 0 1 156.77 348.03 L156.87 350.13 A113.20 113.20 0 0 0 147.82 350.92 Z" fill="#9ccb3b" />
<path d="M146.79 342.88 A121.30 121.30 0 0 1 156.49 342.03 L156.58 344.13 A119.20 119.20 0 0 0 147.05 344.97 Z" fill="#9ccb3b" />
<g><path d="M161.84 359.00 L161.83 357.60" stroke="#777" stroke-width="0.35"/><text transform="translate(161.83,357.00) rotate(89.8)" text-anchor="end" font-size="3.0" fill="#445" font-family="Liberation Sans, sans-serif" dy="1">0</text><path d="M168.98 359.22 L169.07 357.82" stroke="#777" stroke-width="0.35"/><text transform="translate(169.11,357.22) rotate(-86.3)" text-anchor="start" font-size="3.0" fill="#445" font-family="Liberation Sans, sans-serif" dy="1">1</text><path d="M176.09 359.93 L176.28 358.54" stroke="#777" stroke-width="0.35"/><text transform="translate(176.36,357.95) rotate(-82.3)" text-anchor="start" font-size="3.0" fill="#445" font-family="Liberation Sans, sans-serif" dy="1">2</text><path d="M183.13 361.12 L183.42 359.75" stroke="#777" stroke-width="0.35"/><text transform="translate(183.54,359.17) rotate(-78.4)" text-anchor="start" font-size="3.0" fill="#445" font-family="Liberation Sans, sans-serif" dy="1">3</text><path d="M190.08 362.80 L190.46 361.45" stroke="#777" stroke-width="0.35"/><text transform="translate(190.62,360.87) rotate(-74.5)" text-anchor="start" font-size="3.0" fill="#445" font-family="Liberation Sans, sans-serif" dy="1">4</text><path d="M196.90 364.95 L197.36 363.63" stroke="#777" stroke-width="0.35"/><text transform="translate(197.56,363.06) rotate(-70.5)" text-anchor="start" font-size="3.0" fill="#445" font-family="Liberation Sans, sans-serif" dy="1">5</text><path d="M203.55 367.56 L204.10 366.27" stroke="#777" stroke-width="0.35"/><text transform="translate(204.34,365.72) rotate(-66.6)" text-anchor="start" font-size="3.0" fill="#445" font-family="Liberation Sans, sans-serif" dy="1">6</text><path d="M210.01 370.61 L210.65 369.37" stroke="#777" stroke-width="0.35"/><text transform="translate(210.93,368.84) rotate(-62.7)" text-anchor="start" font-size="3.0" fill="#445" font-family="Liberation Sans, sans-serif" dy="1">7</text><path d="M216.24 374.11 L216.97 372.91" stroke="#777" stroke-width="0.35"/><text transform="translate(217.28,372.40) rotate(-58.8)" text-anchor="start" font-size="3.0" fill="#445" font-family="Liberation Sans, sans-serif" dy="1">8</text><path d="M222.22 378.02 L223.03 376.88" stroke="#777" stroke-width="0.35"/><text transform="translate(223.37,376.39) rotate(-54.8)" text-anchor="start" font-size="3.0" fill="#445" font-family="Liberation Sans, sans-serif" dy="1">9</text><path d="M227.92 382.34 L228.80 381.25" stroke="#777" stroke-width="0.35"/><text transform="translate(229.18,380.78) rotate(-50.9)" text-anchor="start" font-size="3.0" fill="#445" font-family="Liberation Sans, sans-serif" dy="1">10</text><path d="M233.30 387.03 L234.26 386.01" stroke="#777" stroke-width="0.35"/><text transform="translate(234.67,385.57) rotate(-47.0)" text-anchor="start" font-size="3.0" fill="#445" font-family="Liberation Sans, sans-serif" dy="1">11</text><path d="M238.36 392.08 L239.38 391.13" stroke="#777" stroke-width="0.35"/><text transform="translate(239.82,390.72) rotate(-43.0)" text-anchor="start" font-size="3.0" fill="#445" font-family="Liberation Sans, sans-serif" dy="1">12</text><path d="M243.05 397.47 L244.14 396.59" stroke="#777" stroke-width="0.35"/><text transform="translate(244.60,396.21) rotate(-39.1)" text-anchor="start" font-size="3.0" fill="#445" font-family="Liberation Sans, sans-serif" dy="1">13</text><path d="M247.37 403.17 L248.51 402.36" stroke="#777" stroke-width="0.35"/><text transform="translate(249.00,402.01) rotate(-35.2)" text-anchor="start" font-size="3.0" fill="#445" font-family="Liberation Sans, sans-serif" dy="1">14</text><path d="M251.28 409.14 L252.48 408.42" stroke="#777" stroke-width="0.35"/><text transform="translate(252.99,408.11) rotate(-31.2)" text-anchor="start" font-size="3.0" fill="#445" font-family="Liberation Sans, sans-serif" dy="1">15</text><path d="M254.78 415.38 L256.02 414.73" stroke="#777" stroke-width="0.35"/><text transform="translate(256.55,414.46) rotate(-27.3)" text-anchor="start" font-size="3.0" fill="#445" font-family="Liberation Sans, sans-serif" dy="1">16</text><path d="M257.84 421.83 L259.12 421.28" stroke="#777" stroke-width="0.35"/><text transform="translate(259.67,421.04) rotate(-23.4)" text-anchor="start" font-size="3.0" fill="#445" font-family="Liberation Sans, sans-serif" dy="1">17</text><path d="M260.45 428.49 L261.77 428.02" stroke="#777" stroke-width="0.35"/><text transform="translate(262.33,427.82) rotate(-19.5)" text-anchor="start" font-size="3.0" fill="#445" font-family="Liberation Sans, sans-serif" dy="1">18</text><path d="M262.60 435.30 L263.94 434.93" stroke="#777" stroke-width="0.35"/><text transform="translate(264.52,434.77) rotate(-15.5)" text-anchor="start" font-size="3.0" fill="#445" font-family="Liberation Sans, sans-serif" dy="1">19</text><path d="M264.27 442.25 L265.64 441.97" stroke="#777" stroke-width="0.35"/><text transform="translate(266.23,441.85) rotate(-11.6)" text-anchor="start" font-size="3.0" fill="#445" font-family="Liberation Sans, sans-serif" dy="1">20</text><path d="M265.47 449.29 L266.86 449.11" stroke="#777" stroke-width="0.35"/><text transform="translate(267.45,449.03) rotate(-7.7)" text-anchor="start" font-size="3.0" fill="#445" font-family="Liberation Sans, sans-serif" dy="1">21</text><path d="M266.18 456.40 L267.58 456.31" stroke="#777" stroke-width="0.35"/><text transform="translate(268.17,456.27) rotate(-3.7)" text-anchor="start" font-size="3.0" fill="#445" font-family="Liberation Sans, sans-serif" dy="1">22</text><path d="M266.40 463.55 L267.80 463.55" stroke="#777" stroke-width="0.35"/><text transform="translate(268.40,463.55) rotate(0.2)" text-anchor="start" font-size="3.0" fill="#445" font-family="Liberation Sans, sans-serif" dy="1">23</text><path d="M266.13 470.69 L267.53 470.79" stroke="#777" stroke-width="0.35"/><text transform="translate(268.13,470.83) rotate(4.1)" text-anchor="start" font-size="3.0" fill="#445" font-family="Liberation Sans, sans-serif" dy="1">24</text><path d="M265.37 477.79 L266.76 477.99" stroke="#777" stroke-width="0.35"/><text transform="translate(267.35,478.07) rotate(8.1)" text-anchor="start" font-size="3.0" fill="#445" font-family="Liberation Sans, sans-serif" dy="1">25</text><path d="M264.13 484.83 L265.50 485.12" stroke="#777" stroke-width="0.35"/><text transform="translate(266.09,485.24) rotate(12.0)" text-anchor="start" font-size="3.0" fill="#445" font-family="Liberation Sans, sans-serif" dy="1">26</text><path d="M262.41 491.76 L263.75 492.15" stroke="#777" stroke-width="0.35"/><text transform="translate(264.33,492.31) rotate(15.9)" text-anchor="start" font-size="3.0" fill="#445" font-family="Liberation Sans, sans-serif" dy="1">27</text><path d="M260.22 498.56 L261.53 499.04" stroke="#777" stroke-width="0.35"/><text transform="translate(262.10,499.24) rotate(19.8)" text-anchor="start" font-size="3.0" fill="#445" font-family="Liberation Sans, sans-serif" dy="1">28</text><path d="M257.56 505.20 L258.84 505.76" stroke="#777" stroke-width="0.35"/><text transform="translate(259.39,506.01) rotate(23.8)" text-anchor="start" font-size="3.0" fill="#445" font-family="Liberation Sans, sans-serif" dy="1">29</text><path d="M254.46 511.64 L255.70 512.29" stroke="#777" stroke-width="0.35"/><text transform="translate(256.23,512.57) rotate(27.7)" text-anchor="start" font-size="3.0" fill="#445" font-family="Liberation Sans, sans-serif" dy="1">30</text><path d="M250.92 517.85 L252.11 518.58" stroke="#777" stroke-width="0.35"/><text transform="translate(252.62,518.89) rotate(31.6)" text-anchor="start" font-size="3.0" fill="#445" font-family="Liberation Sans, sans-serif" dy="1">31</text><path d="M246.97 523.80 L248.11 524.61" stroke="#777" stroke-width="0.35"/><text transform="translate(248.59,524.96) rotate(35.6)" text-anchor="start" font-size="3.0" fill="#445" font-family="Liberation Sans, sans-serif" dy="1">32</text><path d="M242.61 529.47 L243.70 530.36" stroke="#777" stroke-width="0.35"/><text transform="translate(244.16,530.74) rotate(39.5)" text-anchor="start" font-size="3.0" fill="#445" font-family="Liberation Sans, sans-serif" dy="1">33</text><path d="M237.88 534.82 L238.90 535.78" stroke="#777" stroke-width="0.35"/><text transform="translate(239.34,536.20) rotate(43.4)" text-anchor="start" font-size="3.0" fill="#445" font-family="Liberation Sans, sans-serif" dy="1">34</text><path d="M232.80 539.84 L233.75 540.87" stroke="#777" stroke-width="0.35"/><text transform="translate(234.15,541.31) rotate(47.4)" text-anchor="start" font-size="3.0" fill="#445" font-family="Liberation Sans, sans-serif" dy="1">35</text><path d="M227.38 544.50 L228.25 545.59" stroke="#777" stroke-width="0.35"/><text transform="translate(228.63,546.06) rotate(51.3)" text-anchor="start" font-size="3.0" fill="#445" font-family="Liberation Sans, sans-serif" dy="1">36</text><path d="M221.65 548.77 L222.45 549.92" stroke="#777" stroke-width="0.35"/><text transform="translate(222.79,550.42) rotate(55.2)" text-anchor="start" font-size="3.0" fill="#445" font-family="Liberation Sans, sans-serif" dy="1">37</text><path d="M215.65 552.65 L216.37 553.85" stroke="#777" stroke-width="0.35"/><text transform="translate(216.67,554.36) rotate(59.1)" text-anchor="start" font-size="3.0" fill="#445" font-family="Liberation Sans, sans-serif" dy="1">38</text><path d="M210.64 555.46 L211.29 556.70" stroke="#777" stroke-width="0.35"/><text transform="translate(211.57,557.23) rotate(62.3)" text-anchor="start" font-size="3.0" fill="#445" font-family="Liberation Sans, sans-serif" dy="1">0</text><path d="M204.20 558.56 L204.76 559.84" stroke="#777" stroke-width="0.35"/><text transform="translate(205.01,560.39) rotate(66.2)" text-anchor="start" font-size="3.0" fill="#445" font-family="Liberation Sans, sans-serif" dy="1">1</text><path d="M197.56 561.22 L198.04 562.53" stroke="#777" stroke-width="0.35"/><text transform="translate(198.24,563.10) rotate(70.2)" text-anchor="start" font-size="3.0" fill="#445" font-family="Liberation Sans, sans-serif" dy="1">2</text><path d="M187.94 564.17 L188.28 565.53" stroke="#777" stroke-width="0.35"/><text transform="translate(188.43,566.11) rotate(75.7)" text-anchor="start" font-size="3.0" fill="#445" font-family="Liberation Sans, sans-serif" dy="1">0</text><path d="M180.96 565.70 L181.21 567.08" stroke="#777" stroke-width="0.35"/><text transform="translate(181.32,567.67) rotate(79.6)" text-anchor="start" font-size="3.0" fill="#445" font-family="Liberation Sans, sans-serif" dy="1">1</text><path d="M175.98 566.48 L176.17 567.87" stroke="#777" stroke-width="0.35"/><text transform="translate(176.25,568.47) rotate(82.4)" text-anchor="start" font-size="3.0" fill="#445" font-family="Liberation Sans, sans-serif" dy="1">0</text><path d="M168.87 567.19 L168.96 568.58" stroke="#777" stroke-width="0.35"/><text transform="translate(169.00,569.18) rotate(86.3)" text-anchor="start" font-size="3.0" fill="#445" font-family="Liberation Sans, sans-serif" dy="1">1</text><path d="M161.73 567.40 L161.72 568.80" stroke="#777" stroke-width="0.35"/><text transform="translate(161.72,569.40) rotate(270.3)" text-anchor="end" font-size="3.0" fill="#445" font-family="Liberation Sans, sans-serif" dy="1">2</text><path d="M152.39 566.94 L152.26 568.33" stroke="#777" stroke-width="0.35"/><text transform="translate(152.21,568.93) rotate(275.4)" text-anchor="end" font-size="3.0" fill="#445" font-family="Liberation Sans, sans-serif" dy="1">0</text><path d="M145.31 566.02 L145.08 567.40" stroke="#777" stroke-width="0.35"/><text transform="translate(144.98,568.00) rotate(279.3)" text-anchor="end" font-size="3.0" fill="#445" font-family="Liberation Sans, sans-serif" dy="1">1</text><path d="M138.30 564.62 L137.98 565.98" stroke="#777" stroke-width="0.35"/><text transform="translate(137.84,566.57) rotate(283.3)" text-anchor="end" font-size="3.0" fill="#445" font-family="Liberation Sans, sans-serif" dy="1">2</text><path d="M131.40 562.75 L130.99 564.08" stroke="#777" stroke-width="0.35"/><text transform="translate(130.81,564.66) rotate(287.2)" text-anchor="end" font-size="3.0" fill="#445" font-family="Liberation Sans, sans-serif" dy="1">3</text><path d="M120.98 558.90 L120.43 560.19" stroke="#777" stroke-width="0.35"/><text transform="translate(120.19,560.74) rotate(293.3)" text-anchor="end" font-size="3.0" fill="#445" font-family="Liberation Sans, sans-serif" dy="1">0</text><path d="M114.52 555.85 L113.88 557.10" stroke="#777" stroke-width="0.35"/><text transform="translate(113.61,557.63) rotate(297.2)" text-anchor="end" font-size="3.0" fill="#445" font-family="Liberation Sans, sans-serif" dy="1">1</text><path d="M108.28 552.37 L107.56 553.56" stroke="#777" stroke-width="0.35"/><text transform="translate(107.25,554.08) rotate(301.2)" text-anchor="end" font-size="3.0" fill="#445" font-family="Liberation Sans, sans-serif" dy="1">2</text><path d="M102.30 548.46 L101.49 549.61" stroke="#777" stroke-width="0.35"/><text transform="translate(101.15,550.10) rotate(305.1)" text-anchor="end" font-size="3.0" fill="#445" font-family="Liberation Sans, sans-serif" dy="1">3</text><path d="M96.60 544.16 L95.72 545.24" stroke="#777" stroke-width="0.35"/><text transform="translate(95.34,545.71) rotate(309.0)" text-anchor="end" font-size="3.0" fill="#445" font-family="Liberation Sans, sans-serif" dy="1">4</text><path d="M91.20 539.47 L90.25 540.49" stroke="#777" stroke-width="0.35"/><text transform="translate(89.84,540.93) rotate(313.0)" text-anchor="end" font-size="3.0" fill="#445" font-family="Liberation Sans, sans-serif" dy="1">5</text><path d="M86.14 534.42 L85.12 535.38" stroke="#777" stroke-width="0.35"/><text transform="translate(84.68,535.79) rotate(316.9)" text-anchor="end" font-size="3.0" fill="#445" font-family="Liberation Sans, sans-serif" dy="1">6</text><path d="M81.44 529.04 L80.35 529.93" stroke="#777" stroke-width="0.35"/><text transform="translate(79.89,530.31) rotate(320.8)" text-anchor="end" font-size="3.0" fill="#445" font-family="Liberation Sans, sans-serif" dy="1">7</text><path d="M77.12 523.35 L75.97 524.16" stroke="#777" stroke-width="0.35"/><text transform="translate(75.48,524.51) rotate(324.7)" text-anchor="end" font-size="3.0" fill="#445" font-family="Liberation Sans, sans-serif" dy="1">8</text><path d="M73.19 517.38 L72.00 518.11" stroke="#777" stroke-width="0.35"/><text transform="translate(71.49,518.42) rotate(328.7)" text-anchor="end" font-size="3.0" fill="#445" font-family="Liberation Sans, sans-serif" dy="1">9</text><path d="M70.54 512.76 L69.31 513.43" stroke="#777" stroke-width="0.35"/><text transform="translate(68.78,513.71) rotate(331.6)" text-anchor="end" font-size="3.0" fill="#445" font-family="Liberation Sans, sans-serif" dy="1">0</text><path d="M67.36 506.36 L66.09 506.94" stroke="#777" stroke-width="0.35"/><text transform="translate(65.54,507.19) rotate(335.5)" text-anchor="end" font-size="3.0" fill="#445" font-family="Liberation Sans, sans-serif" dy="1">1</text><path d="M64.62 499.76 L63.31 500.25" stroke="#777" stroke-width="0.35"/><text transform="translate(62.75,500.46) rotate(339.5)" text-anchor="end" font-size="3.0" fill="#445" font-family="Liberation Sans, sans-serif" dy="1">2</text><path d="M62.35 492.99 L61.01 493.39" stroke="#777" stroke-width="0.35"/><text transform="translate(60.43,493.56) rotate(343.4)" text-anchor="end" font-size="3.0" fill="#445" font-family="Liberation Sans, sans-serif" dy="1">3</text><path d="M60.54 486.07 L59.18 486.38" stroke="#777" stroke-width="0.35"/><text transform="translate(58.59,486.51) rotate(347.3)" text-anchor="end" font-size="3.0" fill="#445" font-family="Liberation Sans, sans-serif" dy="1">4</text><path d="M59.21 479.05 L57.83 479.26" stroke="#777" stroke-width="0.35"/><text transform="translate(57.24,479.36) rotate(351.2)" text-anchor="end" font-size="3.0" fill="#445" font-family="Liberation Sans, sans-serif" dy="1">5</text><path d="M58.37 471.96 L56.97 472.07" stroke="#777" stroke-width="0.35"/><text transform="translate(56.38,472.12) rotate(355.2)" text-anchor="end" font-size="3.0" fill="#445" font-family="Liberation Sans, sans-serif" dy="1">6</text><path d="M58.01 464.82 L56.61 464.84" stroke="#777" stroke-width="0.35"/><text transform="translate(56.01,464.85) rotate(359.1)" text-anchor="end" font-size="3.0" fill="#445" font-family="Liberation Sans, sans-serif" dy="1">7</text><path d="M58.15 457.67 L56.75 457.60" stroke="#777" stroke-width="0.35"/><text transform="translate(56.15,457.57) rotate(363.0)" text-anchor="end" font-size="3.0" fill="#445" font-family="Liberation Sans, sans-serif" dy="1">8</text><path d="M58.40 454.12 L57.00 454.00" stroke="#777" stroke-width="0.35"/><text transform="translate(56.40,453.94) rotate(365.0)" text-anchor="end" font-size="3.0" fill="#445" font-family="Liberation Sans, sans-serif" dy="1">0</text><path d="M59.26 447.03 L57.88 446.81" stroke="#777" stroke-width="0.35"/><text transform="translate(57.29,446.71) rotate(368.9)" text-anchor="end" font-size="3.0" fill="#445" font-family="Liberation Sans, sans-serif" dy="1">1</text><path d="M60.61 440.01 L59.25 439.70" stroke="#777" stroke-width="0.35"/><text transform="translate(58.66,439.56) rotate(372.9)" text-anchor="end" font-size="3.0" fill="#445" font-family="Liberation Sans, sans-serif" dy="1">2</text><path d="M62.44 433.10 L61.10 432.70" stroke="#777" stroke-width="0.35"/><text transform="translate(60.53,432.52) rotate(376.8)" text-anchor="end" font-size="3.0" fill="#445" font-family="Liberation Sans, sans-serif" dy="1">3</text><path d="M64.74 426.33 L63.43 425.84" stroke="#777" stroke-width="0.35"/><text transform="translate(62.87,425.63) rotate(380.7)" text-anchor="end" font-size="3.0" fill="#445" font-family="Liberation Sans, sans-serif" dy="1">4</text><path d="M67.50 419.74 L66.22 419.16" stroke="#777" stroke-width="0.35"/><text transform="translate(65.68,418.91) rotate(384.7)" text-anchor="end" font-size="3.0" fill="#445" font-family="Liberation Sans, sans-serif" dy="1">5</text><path d="M70.70 413.35 L69.47 412.68" stroke="#777" stroke-width="0.35"/><text transform="translate(68.94,412.40) rotate(388.6)" text-anchor="end" font-size="3.0" fill="#445" font-family="Liberation Sans, sans-serif" dy="1">6</text><path d="M75.31 405.69 L74.14 404.92" stroke="#777" stroke-width="0.35"/><text transform="translate(73.64,404.58) rotate(393.5)" text-anchor="end" font-size="3.0" fill="#445" font-family="Liberation Sans, sans-serif" dy="1">0</text><path d="M79.46 399.87 L78.34 399.02" stroke="#777" stroke-width="0.35"/><text transform="translate(77.87,398.65) rotate(397.4)" text-anchor="end" font-size="3.0" fill="#445" font-family="Liberation Sans, sans-serif" dy="1">1</text><path d="M83.99 394.35 L82.94 393.42" stroke="#777" stroke-width="0.35"/><text transform="translate(82.49,393.02) rotate(401.4)" text-anchor="end" font-size="3.0" fill="#445" font-family="Liberation Sans, sans-serif" dy="1">2</text><path d="M90.47 387.62 L89.51 386.60" stroke="#777" stroke-width="0.35"/><text transform="translate(89.10,386.17) rotate(406.5)" text-anchor="end" font-size="3.0" fill="#445" font-family="Liberation Sans, sans-serif" dy="1">0</text><path d="M95.82 382.88 L94.93 381.80" stroke="#777" stroke-width="0.35"/><text transform="translate(94.55,381.34) rotate(410.4)" text-anchor="end" font-size="3.0" fill="#445" font-family="Liberation Sans, sans-serif" dy="1">1</text><path d="M101.48 378.52 L100.67 377.38" stroke="#777" stroke-width="0.35"/><text transform="translate(100.32,376.89) rotate(414.4)" text-anchor="end" font-size="3.0" fill="#445" font-family="Liberation Sans, sans-serif" dy="1">2</text><path d="M109.00 373.60 L108.29 372.40" stroke="#777" stroke-width="0.35"/><text transform="translate(107.98,371.88) rotate(419.3)" text-anchor="end" font-size="3.0" fill="#445" font-family="Liberation Sans, sans-serif" dy="1">0</text><path d="M115.27 370.17 L114.64 368.92" stroke="#777" stroke-width="0.35"/><text transform="translate(114.37,368.38) rotate(423.2)" text-anchor="end" font-size="3.0" fill="#445" font-family="Liberation Sans, sans-serif" dy="1">1</text><path d="M122.83 366.72 L122.30 365.43" stroke="#777" stroke-width="0.35"/><text transform="translate(122.07,364.87) rotate(427.8)" text-anchor="end" font-size="3.0" fill="#445" font-family="Liberation Sans, sans-serif" dy="1">0</text><path d="M129.53 364.25 L129.09 362.92" stroke="#777" stroke-width="0.35"/><text transform="translate(128.91,362.35) rotate(431.7)" text-anchor="end" font-size="3.0" fill="#445" font-family="Liberation Sans, sans-serif" dy="1">1</text><path d="M136.39 362.25 L136.05 360.89" stroke="#777" stroke-width="0.35"/><text transform="translate(135.90,360.31) rotate(435.7)" text-anchor="end" font-size="3.0" fill="#445" font-family="Liberation Sans, sans-serif" dy="1">2</text><path d="M143.37 360.72 L143.12 359.34" stroke="#777" stroke-width="0.35"/><text transform="translate(143.01,358.75) rotate(439.6)" text-anchor="end" font-size="3.0" fill="#445" font-family="Liberation Sans, sans-serif" dy="1">3</text><path d="M150.44 359.67 L150.28 358.27" stroke="#777" stroke-width="0.35"/><text transform="translate(150.21,357.68) rotate(443.5)" text-anchor="end" font-size="3.0" fill="#445" font-family="Liberation Sans, sans-serif" dy="1">4</text><path d="M157.56 359.10 L157.50 357.70" stroke="#777" stroke-width="0.35"/><text transform="translate(157.48,357.11) rotate(447.5)" text-anchor="end" font-size="3.0" fill="#445" font-family="Liberation Sans, sans-serif" dy="1">5</text><path d="M193.19 345.92 L193.62 344.28" stroke="#3a3a3a" stroke-width="0.35"/><text transform="translate(193.82,343.51) rotate(-75.2)" text-anchor="start" font-size="3.6" fill="#3a3a3a" font-family="Liberation Sans, sans-serif" dy="1">10%</text><path d="M222.48 357.94 L223.33 356.46" stroke="#3a3a3a" stroke-width="0.35"/><text transform="translate(223.73,355.77) rotate(-60.2)" text-anchor="start" font-size="3.6" fill="#3a3a3a" font-family="Liberation Sans, sans-serif" dy="1">20%</text><path d="M247.67 377.13 L248.87 375.92" stroke="#3a3a3a" stroke-width="0.35"/><text transform="translate(249.43,375.36) rotate(-45.2)" text-anchor="start" font-size="3.6" fill="#3a3a3a" font-family="Liberation Sans, sans-serif" dy="1">30%</text><path d="M267.04 402.18 L268.51 401.33" stroke="#3a3a3a" stroke-width="0.35"/><text transform="translate(269.20,400.93) rotate(-30.2)" text-anchor="start" font-size="3.6" fill="#3a3a3a" font-family="Liberation Sans, sans-serif" dy="1">40%</text><path d="M279.26 431.40 L280.90 430.95" stroke="#3a3a3a" stroke-width="0.35"/><text transform="translate(281.67,430.74) rotate(-15.2)" text-anchor="start" font-size="3.6" fill="#3a3a3a" font-family="Liberation Sans, sans-serif" dy="1">50%</text><path d="M283.50 462.78 L285.20 462.77" stroke="#3a3a3a" stroke-width="0.35"/><text transform="translate(286.00,462.77) rotate(-0.2)" text-anchor="start" font-size="3.6" fill="#3a3a3a" font-family="Liberation Sans, sans-serif" dy="1">60%</text><path d="M279.48 494.19 L281.12 494.62" stroke="#3a3a3a" stroke-width="0.35"/><text transform="translate(281.89,494.82) rotate(14.8)" text-anchor="start" font-size="3.6" fill="#3a3a3a" font-family="Liberation Sans, sans-serif" dy="1">70%</text><path d="M267.46 523.48 L268.94 524.33" stroke="#b8b8b8" stroke-width="0.35"/><text transform="translate(269.63,524.73) rotate(29.8)" text-anchor="start" font-size="3.6" fill="#b8b8b8" font-family="Liberation Sans, sans-serif" dy="1">80%</text><path d="M248.27 548.67 L249.48 549.87" stroke="#b8b8b8" stroke-width="0.35"/><text transform="translate(250.04,550.43) rotate(44.8)" text-anchor="start" font-size="3.6" fill="#b8b8b8" font-family="Liberation Sans, sans-serif" dy="1">90%</text><text transform="translate(161.77,339.40) rotate(89.8)" text-anchor="end" font-size="3.6" fill="#3a3a3a" font-family="Liberation Sans, sans-serif" dy="1">0%</text><text transform="translate(219.10,571.57) rotate(62.3)" text-anchor="start" font-size="3.3" fill="#6a727e" font-family="Liberation Sans, sans-serif" font-weight="bold" dy="1">0%</text><text transform="translate(215.82,573.23) rotate(64.0)" text-anchor="start" font-size="3.3" fill="#6a727e" font-family="Liberation Sans, sans-serif" font-weight="bold" dy="1">20%</text><text transform="translate(212.50,574.79) rotate(65.7)" text-anchor="start" font-size="3.3" fill="#6a727e" font-family="Liberation Sans, sans-serif" font-weight="bold" dy="1">30%</text><text transform="translate(209.14,576.24) rotate(67.4)" text-anchor="start" font-size="3.3" fill="#6a727e" font-family="Liberation Sans, sans-serif" font-weight="bold" dy="1">50%</text><text transform="translate(205.73,577.60) rotate(69.2)" text-anchor="start" font-size="3.3" fill="#6a727e" font-family="Liberation Sans, sans-serif" font-weight="bold" dy="1">70%</text><text transform="translate(202.29,578.85) rotate(70.9)" text-anchor="start" font-size="3.3" fill="#6a727e" font-family="Liberation Sans, sans-serif" font-weight="bold" dy="1">80%</text><text transform="translate(198.80,580.00) rotate(72.6)" text-anchor="start" font-size="3.3" fill="#6a727e" font-family="Liberation Sans, sans-serif" font-weight="bold" dy="1">100%</text><text transform="translate(178.39,584.52) rotate(82.4)" text-anchor="start" font-size="3.3" fill="#6a727e" font-family="Liberation Sans, sans-serif" font-weight="bold" dy="1">0%</text><text transform="translate(174.68,584.96) rotate(84.2)" text-anchor="start" font-size="3.3" fill="#6a727e" font-family="Liberation Sans, sans-serif" font-weight="bold" dy="1">20%</text><text transform="translate(170.95,585.29) rotate(85.9)" text-anchor="start" font-size="3.3" fill="#6a727e" font-family="Liberation Sans, sans-serif" font-weight="bold" dy="1">30%</text><text transform="translate(167.22,585.50) rotate(87.7)" text-anchor="start" font-size="3.3" fill="#6a727e" font-family="Liberation Sans, sans-serif" font-weight="bold" dy="1">50%</text><text transform="translate(163.48,585.59) rotate(89.4)" text-anchor="start" font-size="3.3" fill="#6a727e" font-family="Liberation Sans, sans-serif" font-weight="bold" dy="1">70%</text><text transform="translate(159.74,585.58) rotate(271.1)" text-anchor="end" font-size="3.3" fill="#6a727e" font-family="Liberation Sans, sans-serif" font-weight="bold" dy="1">80%</text><text transform="translate(156.01,585.44) rotate(272.9)" text-anchor="end" font-size="3.3" fill="#6a727e" font-family="Liberation Sans, sans-serif" font-weight="bold" dy="1">100%</text><text transform="translate(150.68,585.06) rotate(275.4)" text-anchor="end" font-size="3.3" fill="#6a727e" font-family="Liberation Sans, sans-serif" font-weight="bold" dy="1">0%</text><text transform="translate(147.39,584.70) rotate(277.0)" text-anchor="end" font-size="3.3" fill="#6a727e" font-family="Liberation Sans, sans-serif" font-weight="bold" dy="1">10%</text><text transform="translate(144.11,584.26) rotate(278.5)" text-anchor="end" font-size="3.3" fill="#6a727e" font-family="Liberation Sans, sans-serif" font-weight="bold" dy="1">20%</text><text transform="translate(140.84,583.72) rotate(280.1)" text-anchor="end" font-size="3.3" fill="#6a727e" font-family="Liberation Sans, sans-serif" font-weight="bold" dy="1">30%</text><text transform="translate(137.59,583.10) rotate(281.6)" text-anchor="end" font-size="3.3" fill="#6a727e" font-family="Liberation Sans, sans-serif" font-weight="bold" dy="1">40%</text><text transform="translate(134.35,582.39) rotate(283.1)" text-anchor="end" font-size="3.3" fill="#6a727e" font-family="Liberation Sans, sans-serif" font-weight="bold" dy="1">50%</text><text transform="translate(131.14,581.59) rotate(284.7)" text-anchor="end" font-size="3.3" fill="#6a727e" font-family="Liberation Sans, sans-serif" font-weight="bold" dy="1">60%</text><text transform="translate(127.95,580.71) rotate(286.2)" text-anchor="end" font-size="3.3" fill="#6a727e" font-family="Liberation Sans, sans-serif" font-weight="bold" dy="1">70%</text><text transform="translate(124.78,579.74) rotate(287.8)" text-anchor="end" font-size="3.3" fill="#6a727e" font-family="Liberation Sans, sans-serif" font-weight="bold" dy="1">80%</text><text transform="translate(121.64,578.69) rotate(289.4)" text-anchor="end" font-size="3.3" fill="#6a727e" font-family="Liberation Sans, sans-serif" font-weight="bold" dy="1">90%</text><text transform="translate(118.54,577.55) rotate(290.9)" text-anchor="end" font-size="3.3" fill="#6a727e" font-family="Liberation Sans, sans-serif" font-weight="bold" dy="1">100%</text><text transform="translate(113.79,575.62) rotate(293.3)" text-anchor="end" font-size="3.3" fill="#6a727e" font-family="Liberation Sans, sans-serif" font-weight="bold" dy="1">0%</text><text transform="translate(106.84,572.37) rotate(296.9)" text-anchor="end" font-size="3.3" fill="#6a727e" font-family="Liberation Sans, sans-serif" font-weight="bold" dy="1">10%</text><text transform="translate(100.11,568.69) rotate(300.5)" text-anchor="end" font-size="3.3" fill="#6a727e" font-family="Liberation Sans, sans-serif" font-weight="bold" dy="1">20%</text><text transform="translate(93.63,564.59) rotate(304.1)" text-anchor="end" font-size="3.3" fill="#6a727e" font-family="Liberation Sans, sans-serif" font-weight="bold" dy="1">30%</text><text transform="translate(87.42,560.10) rotate(307.7)" text-anchor="end" font-size="3.3" fill="#6a727e" font-family="Liberation Sans, sans-serif" font-weight="bold" dy="1">40%</text><text transform="translate(81.50,555.23) rotate(311.2)" text-anchor="end" font-size="3.3" fill="#6a727e" font-family="Liberation Sans, sans-serif" font-weight="bold" dy="1">50%</text><text transform="translate(75.89,549.99) rotate(314.8)" text-anchor="end" font-size="3.3" fill="#6a727e" font-family="Liberation Sans, sans-serif" font-weight="bold" dy="1">60%</text><text transform="translate(70.63,544.42) rotate(318.4)" text-anchor="end" font-size="3.3" fill="#6a727e" font-family="Liberation Sans, sans-serif" font-weight="bold" dy="1">70%</text><text transform="translate(65.72,538.52) rotate(322.0)" text-anchor="end" font-size="3.3" fill="#6a727e" font-family="Liberation Sans, sans-serif" font-weight="bold" dy="1">80%</text><text transform="translate(61.19,532.33) rotate(325.6)" text-anchor="end" font-size="3.3" fill="#6a727e" font-family="Liberation Sans, sans-serif" font-weight="bold" dy="1">90%</text><text transform="translate(57.06,525.87) rotate(329.2)" text-anchor="end" font-size="3.3" fill="#6a727e" font-family="Liberation Sans, sans-serif" font-weight="bold" dy="1">100%</text><text transform="translate(54.53,521.42) rotate(331.6)" text-anchor="end" font-size="3.3" fill="#6a727e" font-family="Liberation Sans, sans-serif" font-weight="bold" dy="1">0%</text><text transform="translate(51.49,515.39) rotate(334.8)" text-anchor="end" font-size="3.3" fill="#6a727e" font-family="Liberation Sans, sans-serif" font-weight="bold" dy="1">10%</text><text transform="translate(48.78,509.21) rotate(337.9)" text-anchor="end" font-size="3.3" fill="#6a727e" font-family="Liberation Sans, sans-serif" font-weight="bold" dy="1">20%</text><text transform="translate(46.41,502.89) rotate(341.1)" text-anchor="end" font-size="3.3" fill="#6a727e" font-family="Liberation Sans, sans-serif" font-weight="bold" dy="1">30%</text><text transform="translate(44.40,496.44) rotate(344.2)" text-anchor="end" font-size="3.3" fill="#6a727e" font-family="Liberation Sans, sans-serif" font-weight="bold" dy="1">40%</text><text transform="translate(42.75,489.90) rotate(347.4)" text-anchor="end" font-size="3.3" fill="#6a727e" font-family="Liberation Sans, sans-serif" font-weight="bold" dy="1">50%</text><text transform="translate(41.46,483.28) rotate(350.6)" text-anchor="end" font-size="3.3" fill="#6a727e" font-family="Liberation Sans, sans-serif" font-weight="bold" dy="1">60%</text><text transform="translate(40.53,476.59) rotate(353.7)" text-anchor="end" font-size="3.3" fill="#6a727e" font-family="Liberation Sans, sans-serif" font-weight="bold" dy="1">70%</text><text transform="translate(39.98,469.86) rotate(356.9)" text-anchor="end" font-size="3.3" fill="#6a727e" font-family="Liberation Sans, sans-serif" font-weight="bold" dy="1">80%</text><text transform="translate(39.80,463.11) rotate(360.0)" text-anchor="end" font-size="3.3" fill="#6a727e" font-family="Liberation Sans, sans-serif" font-weight="bold" dy="1">90%</text><text transform="translate(39.99,456.37) rotate(363.2)" text-anchor="end" font-size="3.3" fill="#6a727e" font-family="Liberation Sans, sans-serif" font-weight="bold" dy="1">100%</text><text transform="translate(40.27,452.53) rotate(365.0)" text-anchor="end" font-size="3.3" fill="#6a727e" font-family="Liberation Sans, sans-serif" font-weight="bold" dy="1">0%</text><text transform="translate(40.89,446.91) rotate(367.6)" text-anchor="end" font-size="3.3" fill="#6a727e" font-family="Liberation Sans, sans-serif" font-weight="bold" dy="1">10%</text><text transform="translate(41.77,441.31) rotate(370.3)" text-anchor="end" font-size="3.3" fill="#6a727e" font-family="Liberation Sans, sans-serif" font-weight="bold" dy="1">20%</text><text transform="translate(42.91,435.77) rotate(372.9)" text-anchor="end" font-size="3.3" fill="#6a727e" font-family="Liberation Sans, sans-serif" font-weight="bold" dy="1">30%</text><text transform="translate(44.31,430.28) rotate(375.6)" text-anchor="end" font-size="3.3" fill="#6a727e" font-family="Liberation Sans, sans-serif" font-weight="bold" dy="1">40%</text><text transform="translate(45.96,424.87) rotate(378.2)" text-anchor="end" font-size="3.3" fill="#6a727e" font-family="Liberation Sans, sans-serif" font-weight="bold" dy="1">50%</text><text transform="translate(47.85,419.54) rotate(380.9)" text-anchor="end" font-size="3.3" fill="#6a727e" font-family="Liberation Sans, sans-serif" font-weight="bold" dy="1">60%</text><text transform="translate(49.99,414.30) rotate(383.6)" text-anchor="end" font-size="3.3" fill="#6a727e" font-family="Liberation Sans, sans-serif" font-weight="bold" dy="1">70%</text><text transform="translate(52.38,409.16) rotate(386.2)" text-anchor="end" font-size="3.3" fill="#6a727e" font-family="Liberation Sans, sans-serif" font-weight="bold" dy="1">80%</text><text transform="translate(54.99,404.14) rotate(388.9)" text-anchor="end" font-size="3.3" fill="#6a727e" font-family="Liberation Sans, sans-serif" font-weight="bold" dy="1">90%</text><text transform="translate(57.84,399.25) rotate(391.5)" text-anchor="end" font-size="3.3" fill="#6a727e" font-family="Liberation Sans, sans-serif" font-weight="bold" dy="1">100%</text><text transform="translate(60.13,395.64) rotate(393.5)" text-anchor="end" font-size="3.3" fill="#6a727e" font-family="Liberation Sans, sans-serif" font-weight="bold" dy="1">0%</text><text transform="translate(62.35,392.41) rotate(395.3)" text-anchor="end" font-size="3.3" fill="#6a727e" font-family="Liberation Sans, sans-serif" font-weight="bold" dy="1">20%</text><text transform="translate(64.66,389.25) rotate(397.2)" text-anchor="end" font-size="3.3" fill="#6a727e" font-family="Liberation Sans, sans-serif" font-weight="bold" dy="1">30%</text><text transform="translate(67.08,386.17) rotate(399.0)" text-anchor="end" font-size="3.3" fill="#6a727e" font-family="Liberation Sans, sans-serif" font-weight="bold" dy="1">50%</text><text transform="translate(69.59,383.17) rotate(400.8)" text-anchor="end" font-size="3.3" fill="#6a727e" font-family="Liberation Sans, sans-serif" font-weight="bold" dy="1">70%</text><text transform="translate(72.20,380.25) rotate(402.7)" text-anchor="end" font-size="3.3" fill="#6a727e" font-family="Liberation Sans, sans-serif" font-weight="bold" dy="1">80%</text><text transform="translate(74.90,377.41) rotate(404.5)" text-anchor="end" font-size="3.3" fill="#6a727e" font-family="Liberation Sans, sans-serif" font-weight="bold" dy="1">100%</text><text transform="translate(77.95,374.41) rotate(406.5)" text-anchor="end" font-size="3.3" fill="#6a727e" font-family="Liberation Sans, sans-serif" font-weight="bold" dy="1">0%</text><text transform="translate(80.80,371.79) rotate(408.3)" text-anchor="end" font-size="3.3" fill="#6a727e" font-family="Liberation Sans, sans-serif" font-weight="bold" dy="1">20%</text><text transform="translate(83.74,369.25) rotate(410.1)" text-anchor="end" font-size="3.3" fill="#6a727e" font-family="Liberation Sans, sans-serif" font-weight="bold" dy="1">30%</text><text transform="translate(86.76,366.81) rotate(411.9)" text-anchor="end" font-size="3.3" fill="#6a727e" font-family="Liberation Sans, sans-serif" font-weight="bold" dy="1">50%</text><text transform="translate(89.85,364.47) rotate(413.8)" text-anchor="end" font-size="3.3" fill="#6a727e" font-family="Liberation Sans, sans-serif" font-weight="bold" dy="1">70%</text><text transform="translate(93.02,362.23) rotate(415.6)" text-anchor="end" font-size="3.3" fill="#6a727e" font-family="Liberation Sans, sans-serif" font-weight="bold" dy="1">80%</text><text transform="translate(96.25,360.08) rotate(417.4)" text-anchor="end" font-size="3.3" fill="#6a727e" font-family="Liberation Sans, sans-serif" font-weight="bold" dy="1">100%</text><text transform="translate(115.95,349.87) rotate(427.8)" text-anchor="end" font-size="3.3" fill="#6a727e" font-family="Liberation Sans, sans-serif" font-weight="bold" dy="1">0%</text><text transform="translate(119.90,348.34) rotate(429.8)" text-anchor="end" font-size="3.3" fill="#6a727e" font-family="Liberation Sans, sans-serif" font-weight="bold" dy="1">10%</text><text transform="translate(123.89,346.95) rotate(431.8)" text-anchor="end" font-size="3.3" fill="#6a727e" font-family="Liberation Sans, sans-serif" font-weight="bold" dy="1">20%</text><text transform="translate(127.93,345.70) rotate(433.7)" text-anchor="end" font-size="3.3" fill="#6a727e" font-family="Liberation Sans, sans-serif" font-weight="bold" dy="1">30%</text><text transform="translate(132.01,344.58) rotate(435.7)" text-anchor="end" font-size="3.3" fill="#6a727e" font-family="Liberation Sans, sans-serif" font-weight="bold" dy="1">40%</text><text transform="translate(136.13,343.61) rotate(437.7)" text-anchor="end" font-size="3.3" fill="#6a727e" font-family="Liberation Sans, sans-serif" font-weight="bold" dy="1">50%</text><text transform="translate(140.27,342.78) rotate(439.7)" text-anchor="end" font-size="3.3" fill="#6a727e" font-family="Liberation Sans, sans-serif" font-weight="bold" dy="1">60%</text><text transform="translate(144.45,342.09) rotate(441.7)" text-anchor="end" font-size="3.3" fill="#6a727e" font-family="Liberation Sans, sans-serif" font-weight="bold" dy="1">70%</text><text transform="translate(148.64,341.55) rotate(443.6)" text-anchor="end" font-size="3.3" fill="#6a727e" font-family="Liberation Sans, sans-serif" font-weight="bold" dy="1">80%</text><text transform="translate(152.85,341.16) rotate(445.6)" text-anchor="end" font-size="3.3" fill="#6a727e" font-family="Liberation Sans, sans-serif" font-weight="bold" dy="1">90%</text><text transform="translate(157.07,340.91) rotate(447.6)" text-anchor="end" font-size="3.3" fill="#6a727e" font-family="Liberation Sans, sans-serif" font-weight="bold" dy="1">100%</text></g>
<text transform="translate(302.40,432.80) rotate(76.0)" text-anchor="middle" font-size="8.8" fill="#b3202e" font-family="Liberation Sans, sans-serif" textLength="24.8" lengthAdjust="spacingAndGlyphs" dy="3.17">STAT3</text>
<text transform="translate(131.00,329.20) rotate(-12.8)" text-anchor="middle" font-size="8.8" fill="#3aa0dc" font-family="Liberation Sans, sans-serif" textLength="37.5" lengthAdjust="spacingAndGlyphs" dy="3.17">DNMT3A</text>
<text transform="translate(97.50,342.60) rotate(-27.1)" text-anchor="middle" font-size="8.8" fill="#3aa0dc" font-family="Liberation Sans, sans-serif" textLength="18.3" lengthAdjust="spacingAndGlyphs" dy="3.17">IDH1</text>
<text transform="translate(73.20,356.70) rotate(-38.0)" text-anchor="middle" font-size="8.8" fill="#3aa0dc" font-family="Liberation Sans, sans-serif" textLength="19.5" lengthAdjust="spacingAndGlyphs" dy="3.17">IDH2</text>
<text transform="translate(55.40,373.60) rotate(-51.0)" text-anchor="middle" font-size="8.8" fill="#111" font-family="Liberation Sans, sans-serif" textLength="20.5" lengthAdjust="spacingAndGlyphs" dy="3.17">JAK1</text>
<text transform="translate(30.00,418.40) rotate(-70.5)" text-anchor="middle" font-size="8.8" fill="#3aa0dc" font-family="Liberation Sans, sans-serif" textLength="26" lengthAdjust="spacingAndGlyphs" dy="3.17">SETD2</text>
<text transform="translate(24.80,493.30) rotate(-102.0)" text-anchor="middle" font-size="8.8" fill="#3aa0dc" font-family="Liberation Sans, sans-serif" textLength="19" lengthAdjust="spacingAndGlyphs" dy="3.17">TET2</text>
<text transform="translate(70.00,569.80) rotate(41.0)" text-anchor="middle" font-size="8.8" fill="#2a7058" font-family="Liberation Sans, sans-serif" textLength="36.8" lengthAdjust="spacingAndGlyphs" dy="3.17">TNFAIP3</text>
<text transform="translate(130.90,597.30) rotate(13.5)" text-anchor="middle" font-size="8.8" fill="#111" font-family="Liberation Sans, sans-serif" textLength="20.5" lengthAdjust="spacingAndGlyphs" dy="3.17">TP53</text>
<text transform="translate(168.00,606.60) rotate(87.6)" text-anchor="middle" font-size="8.8" fill="#f0932e" font-family="Liberation Sans, sans-serif" textLength="20.8" lengthAdjust="spacingAndGlyphs" dy="3.17">JAK1</text>
<text transform="translate(194.00,609.00) rotate(78.0)" text-anchor="middle" font-size="8.8" fill="#f0932e" font-family="Liberation Sans, sans-serif" textLength="32" lengthAdjust="spacingAndGlyphs" dy="3.17">STAT5B</text>
<text transform="translate(221.70,599.20) rotate(67.5)" text-anchor="middle" font-size="8.8" fill="#f0932e" font-family="Liberation Sans, sans-serif" textLength="24.5" lengthAdjust="spacingAndGlyphs" dy="3.17">GNAS</text>
<rect x="0.5" y="0.5" width="519" height="627.5" fill="none" stroke="#4a4a4a" stroke-width="1"/>
<rect x="0" y="627.5" width="520" height="1.5" fill="#555"/>
<text x="7.2" y="15.9" font-family="Liberation Sans, sans-serif" font-size="12.2" font-weight="bold" fill="#111">A</text>
<text x="7.6" y="312.1" font-family="Liberation Sans, sans-serif" font-size="12.2" font-weight="bold" fill="#111">B</text>
</svg></body></html>
